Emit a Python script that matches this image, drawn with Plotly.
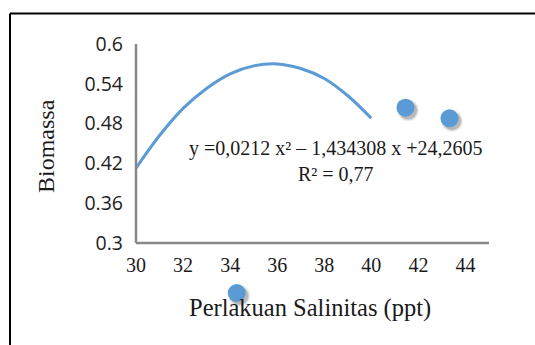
import plotly.graph_objects as go

# Trend curve
curve_x = [30, 31, 32, 33, 34, 35, 36, 37, 38, 39, 40]
curve_y = [0.413, 0.462, 0.503, 0.533, 0.555, 0.567, 0.570, 0.563, 0.548, 0.522, 0.488]

# Observed points
pts_x = [41.45, 43.32, 34.28]
pts_y = [0.504, 0.488, 0.2245]

x_ticks = [30, 32, 34, 36, 38, 40, 42, 44]
y_ticks = [0.3, 0.36, 0.42, 0.48, 0.54, 0.6]
y_tick_text = ["0.3", "0.36", "0.42", "0.48", "0.54", "0.6"]

x_title = "Perlakuan Salinitas (ppt)"
y_title = "Biomassa"
equation = "y =0,0212 x² – 1,434308 x +24,2605"
r2 = "R² = 0,77"

BLUE = "#5B9BD5"
SERIF = "Liberation Serif"
TXT = "#1a1a1a"
AXIS_GRAY = "#888888"

# geometry (pixels) of the figure
W, H = 535, 345
M_L, M_R, M_T, M_B = 136, 46, 44, 40
AX_BOTTOM_PX = 243          # pixel row of the x axis line
X_MIN, X_MAX = 30, 45
Y_MIN, Y_MAX = 0.3, 0.6

plot_w = W - M_L - M_R
plot_h = H - M_T - M_B
main_dom0 = (H - M_B - AX_BOTTOM_PX) / plot_h
px_per_unit = (AX_BOTTOM_PX - M_T) / (Y_MAX - Y_MIN)
y2_min = Y_MAX - plot_h / px_per_unit


def px_x(px):
    return (px - M_L) / plot_w


def px_y(py):
    return (H - M_B - py) / plot_h


fig = go.Figure()

fig.add_trace(go.Scatter(
    x=curve_x, y=curve_y, mode="lines",
    line=dict(color=BLUE, width=3, shape="spline"),
    hoverinfo="skip", showlegend=False,
))

# soft shadow for the markers (drawn on the full-height overlay axis)
for sz, op in [(22, 0.06), (20, 0.10), (18, 0.14)]:
    fig.add_trace(go.Scatter(
        x=[v + 0.11 for v in pts_x], y=[v - 0.004 for v in pts_y], mode="markers",
        marker=dict(size=sz, color="rgba(0,0,0,%s)" % op, line=dict(width=0)),
        xaxis="x", yaxis="y2",
        cliponaxis=False, hoverinfo="skip", showlegend=False,
    ))
fig.add_trace(go.Scatter(
    x=pts_x, y=pts_y, mode="markers",
    marker=dict(size=18, color=BLUE, line=dict(width=0)),
    xaxis="x", yaxis="y2",
    cliponaxis=False, showlegend=False,
))

fig.add_annotation(
    x=32.15, y=0.424, xref="x", yref="y",
    text=equation + "<br>" + r2, showarrow=False,
    font=dict(family=SERIF, size=20, color=TXT),
    align="center", xanchor="left", yanchor="middle",
)
# axis titles
fig.add_annotation(
    x=px_x(310), y=px_y(308), xref="paper", yref="paper",
    text=x_title, showarrow=False,
    font=dict(family=SERIF, size=24.5, color=TXT),
    xanchor="center", yanchor="middle",
)
fig.add_annotation(
    x=px_x(46), y=px_y(146), xref="paper", yref="paper",
    text=y_title, showarrow=False, textangle=-90,
    font=dict(family=SERIF, size=24, color=TXT),
    xanchor="center", yanchor="middle",
)

border_x = px_x(10)
border_y = px_y(13.5)

fig.update_layout(
    width=W, height=H,
    margin=dict(l=M_L, r=M_R, t=M_T, b=M_B),
    paper_bgcolor="white", plot_bgcolor="rgba(0,0,0,0)",
    xaxis=dict(
        range=[X_MIN, X_MAX], tickvals=x_ticks, ticks="",
        showgrid=False, zeroline=False, anchor="y", showline=False,
        ticklabelstandoff=8,
        tickfont=dict(family=SERIF, size=20, color=TXT),
    ),
    yaxis=dict(
        range=[Y_MIN, Y_MAX], domain=[main_dom0, 1], anchor="x",
        tickvals=y_ticks, ticktext=y_tick_text, ticks="",
        showgrid=False, zeroline=False, showline=False,
        ticklabelstandoff=12,
        tickfont=dict(family="Open Sans", size=19.5, color="#222"),
    ),
    yaxis2=dict(
        range=[y2_min, Y_MAX], domain=[0, 1], anchor="x",
        visible=False, showgrid=False, zeroline=False,
    ),
    shapes=[
        # axis lines (plot-area edges of the main subplot)
        dict(type="line", xref="paper", yref="paper", layer="above",
             x0=0, x1=1, y0=main_dom0, y1=main_dom0,
             line=dict(color=AXIS_GRAY, width=2.5)),
        dict(type="line", xref="paper", yref="paper", layer="above",
             x0=0, x1=0, y0=main_dom0, y1=1,
             line=dict(color=AXIS_GRAY, width=2.5)),
        # chart border
        dict(type="line", xref="paper", yref="paper",
             x0=border_x, x1=1.3, y0=border_y, y1=border_y,
             line=dict(color="black", width=2)),
        dict(type="line", xref="paper", yref="paper",
             x0=border_x, x1=border_x, y0=border_y, y1=-0.5,
             line=dict(color="black", width=2)),
    ],
)

fig.write_html(
    "out.html",
    config={"displayModeBar": False},
    post_script="document.body.style.margin='0';document.body.style.overflow='hidden';",
)
